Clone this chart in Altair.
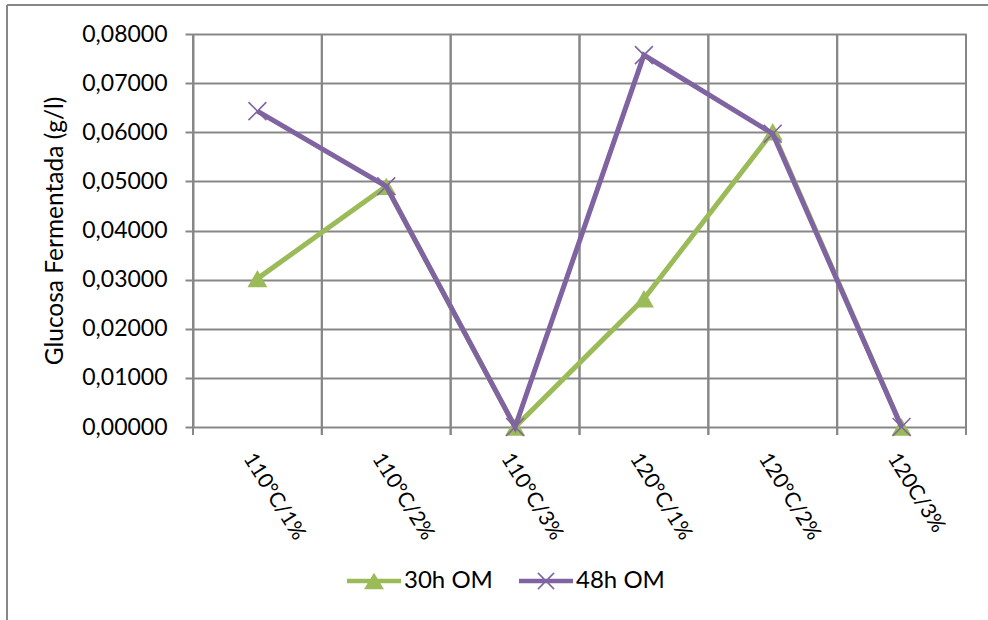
import altair as alt
import pandas as pd

# Categories (temperature / concentration) and fermented glucose for each series
categories = ["110°C/1%", "110°C/2%", "110°C/3%", "120°C/1%", "120°C/2%", "120C/3%"]
om_30h = [0.0302, 0.0490, 0.0, 0.0261, 0.0601, 0.0]
om_48h = [0.0643, 0.0490, 0.0, 0.0757, 0.0597, 0.0]
series_names = ["30h OM", "48h OM"]
y_ticks = [0.0, 0.01, 0.02, 0.03, 0.04, 0.05, 0.06, 0.07, 0.08]

GREEN = "#9BBB59"
PURPLE = "#8064A2"
GRID = "#878787"
FONT = "Lato"

df = pd.DataFrame({
    "cat": categories * 2,
    "serie": [series_names[0]] * len(categories) + [series_names[1]] * len(categories),
    "valor": om_30h + om_48h,
})
cats_df = pd.DataFrame({"cat": categories})
legend_df = pd.DataFrame({"serie": series_names})

W, H = 773, 393
PAD_L, PAD_T = 193, 34

x_scale = alt.Scale(domain=categories, paddingInner=0, paddingOuter=0)
y_scale = alt.Scale(domain=[0, 0.08], nice=False)

x_axis = alt.Axis(
    labelAngle=58, labelAlign="left", labelBaseline="top",
    labelPadding=22, labelOffset=0, labelFont=FONT, labelFontSize=21,
    labelColor="black", ticks=False, domain=False, grid=False,
)
x_enc = alt.X("cat:N", sort=categories, scale=x_scale, title=None, axis=x_axis)
y_enc = alt.Y(
    "valor:Q", scale=y_scale, title="Glucosa Fermentada (g/l)",
    axis=alt.Axis(
        values=y_ticks,
        labelExpr="replace(format(datum.value, '.5f'), '.', ',')",
        labelFont=FONT, labelFontSize=23, labelColor="black", labelPadding=18,
        tickSize=8, tickColor=GRID, tickWidth=2,
        domainColor=GRID, domainWidth=2,
        grid=True, gridColor=GRID, gridWidth=2,
        titleFont=FONT, titleFontSize=24.5, titleFontWeight="normal",
        titleColor="black", titlePadding=14,
    ),
)

# Vertical grid lines at the category boundaries, with the small tick below
grid_left = alt.Chart(cats_df).mark_rule(color=GRID, strokeWidth=2).encode(
    x=alt.X("cat:N", sort=categories, scale=x_scale, bandPosition=0, title=None, axis=x_axis),
    y=alt.value(0), y2=alt.value(H + 8),
)
grid_right = alt.Chart(cats_df).mark_rule(color=GRID, strokeWidth=2).encode(
    x=alt.X("cat:N", sort=categories, scale=x_scale, bandPosition=1, title=None, axis=x_axis),
    y=alt.value(0), y2=alt.value(H + 8),
)

cross_path = "M-1,-1L1,1M1,-1L-1,1"


def series_layers(name, color, marker):
    base = alt.Chart(df).transform_filter(alt.datum.serie == name)
    line = base.mark_line(color=color, strokeWidth=5).encode(x=x_enc, y=y_enc)
    if marker == "triangle":
        pts = base.mark_point(shape="triangle-up", filled=True, color=color,
                              size=400, opacity=1).encode(x=x_enc, y=y_enc)
    else:
        pts = base.mark_point(shape=cross_path, filled=False, color=color,
                              size=320, strokeWidth=1.6, opacity=1).encode(x=x_enc, y=y_enc)
    return [line, pts]


# Legend symbols: a thick line segment with the series marker on it
legend_30 = ("M-1,-0.08L1,-0.08L1,0.08L-1,0.08Z "
             "M-0.37,0.31L0,-0.31L0.37,0.31Z")
legend_48 = ("M-1,-0.08L1,-0.08L1,0.08L-1,0.08Z "
             "M-0.32,-0.28L-0.28,-0.32L0.32,0.28L0.28,0.32Z "
             "M-0.32,0.28L0.28,-0.32L0.32,-0.28L-0.28,0.32Z")

legend_opts = dict(
    title=None, orient="none", legendX=154, legendY=520,
    direction="horizontal", columns=2, padding=0,
    symbolSize=2916, symbolStrokeWidth=0,
    labelFont=FONT, labelFontSize=24, labelColor="black",
    labelOffset=3, columnPadding=26,
)

legend_layer = alt.Chart(legend_df).transform_filter("false").mark_point(
    filled=True, opacity=1
).encode(
    color=alt.Color("serie:N", scale=alt.Scale(domain=series_names, range=[GREEN, PURPLE]),
                    legend=alt.Legend(**legend_opts)),
    shape=alt.Shape("serie:N", scale=alt.Scale(domain=series_names, range=[legend_30, legend_48]),
                    legend=alt.Legend(**legend_opts)),
)

# Outer chart frame (left and top edges)
frame_left = alt.Chart(cats_df).mark_rule(color=GRID, strokeWidth=2).encode(
    x=alt.value(7 - PAD_L), y=alt.value(5 - PAD_T), y2=alt.value(620)
)
frame_top = alt.Chart(cats_df).mark_rule(color=GRID, strokeWidth=2).encode(
    x=alt.value(7 - PAD_L), x2=alt.value(988), y=alt.value(5 - PAD_T)
)

layers = [grid_left, grid_right]
layers += series_layers("30h OM", GREEN, "triangle")
layers += series_layers("48h OM", PURPLE, "cross")
layers += [legend_layer, frame_left, frame_top]

chart = alt.layer(*layers).properties(
    width=W, height=H,
    autosize=alt.AutoSizeParams(type="none"),
    padding={"left": PAD_L, "top": PAD_T, "right": 988 - PAD_L - W, "bottom": 620 - PAD_T - H},
    background="white",
).configure_view(stroke=None)

chart.save("out.html", embed_options={"renderer": "svg", "actions": False})
